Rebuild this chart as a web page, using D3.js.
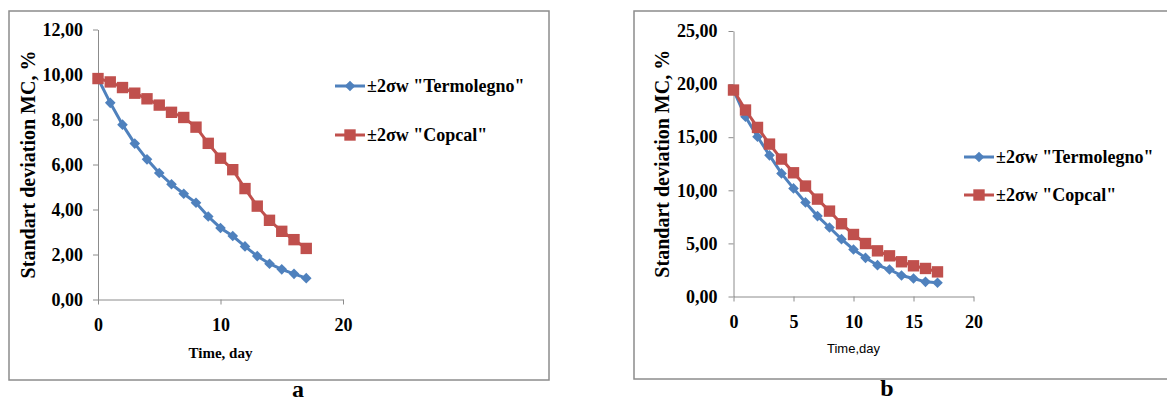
<!DOCTYPE html>
<meta charset="utf-8">
<style>
body { margin: 0; background: #fff; }
.tick text { font-family: "Liberation Serif", "Times New Roman", serif; font-weight: bold; font-size: 18px; fill: #000; }
.domain, .tick line { stroke: #8c8c8c; stroke-width: 1px; }
.legend text, .ytitle { font-family: "Liberation Serif", "Times New Roman", serif; font-weight: bold; fill: #000; }
</style>
<svg></svg>
<script src="https://d3js.org/d3.v7.min.js"></script>
<script>

var width = 1167,
    height = 403;

// days on the x axis
var days = [0, 1, 2, 3, 4, 5, 6, 7, 8, 9, 10, 11, 12, 13, 14, 15, 16, 17];

// panel a values
var aTermolegno = [9.82, 8.74, 7.77, 6.93, 6.23, 5.62, 5.12, 4.70, 4.30, 3.69, 3.18, 2.82, 2.36, 1.93, 1.59, 1.34, 1.14, 0.95];
var aCopcal = [9.82, 9.67, 9.42, 9.17, 8.92, 8.64, 8.32, 8.09, 7.66, 6.94, 6.28, 5.77, 4.93, 4.15, 3.52, 3.03, 2.66, 2.27];

// panel b values
var bTermolegno = [19.44, 16.93, 15.04, 13.29, 11.59, 10.18, 8.86, 7.57, 6.50, 5.40, 4.43, 3.64, 2.95, 2.54, 1.98, 1.70, 1.38, 1.29];
var bCopcal = [19.44, 17.56, 15.92, 14.35, 12.94, 11.65, 10.40, 9.17, 8.04, 6.85, 5.84, 4.99, 4.30, 3.83, 3.27, 2.89, 2.64, 2.32];

var seriesNames = ['±2σw "Termolegno"', '±2σw "Copcal"'];
var yTicksA = [0, 2, 4, 6, 8, 10, 12],
    xTicksA = [0, 10, 20],
    yTicksB = [0, 5, 10, 15, 20, 25],
    xTicksB = [0, 5, 10, 15, 20];

var blue = "#4f81bd",
    red = "#c0504d";

var comma = d3.formatLocale({decimal: ",", thousands: " ", grouping: [3], currency: ["", ""]}).format(".2f");

var svg = d3.select("svg")
    .attr("width", width)
    .attr("height", height);

function panel(o) {
  var g = svg.append("g");

  // frame
  g.append("rect")
      .attr("x", o.frame[0]).attr("y", o.frame[1])
      .attr("width", o.frame[2]).attr("height", o.frame[3])
      .attr("fill", "none")
      .attr("stroke", "#8c8c8c")
      .attr("stroke-width", 1.5);

  var x = d3.scaleLinear().domain([0, 20]).range([o.x0, o.x1]);
  var y = d3.scaleLinear().domain([0, o.ymax]).range([o.y0, o.y1]);

  g.append("g")
      .attr("transform", "translate(0," + o.y0 + ")")
      .call(d3.axisBottom(x).tickValues(o.xticks).tickSize(5).tickPadding(14).tickSizeOuter(0));

  g.append("g")
      .attr("transform", "translate(" + o.x0 + ",0)")
      .call(d3.axisLeft(y).tickValues(o.yticks).tickSize(5).tickPadding(o.ypad).tickFormat(comma).tickSizeOuter(0));

  g.append("text")
      .attr("class", "ytitle")
      .attr("transform", "translate(" + o.ytx + "," + ((o.y0 + o.y1) / 2) + ") rotate(-90)")
      .attr("text-anchor", "middle")
      .attr("font-size", 20)
      .text("Standart deviation MC, %");

  g.append("text")
      .attr("x", x(10)).attr("y", o.xty)
      .attr("text-anchor", "middle")
      .attr("font-family", o.xtFont)
      .attr("font-weight", o.xtWeight)
      .attr("font-size", o.xtSize)
      .text(o.xtitle);

  var line = d3.line()
      .x(function(d, i) { return x(days[i]); })
      .y(function(d) { return y(d); });

  var sets = [
    {values: o.s1, color: blue, sym: d3.symbolDiamond2, size: 72},
    {values: o.s2, color: red, sym: d3.symbolSquare2, size: 165}
  ];

  sets.forEach(function(s) {
    g.append("path")
        .datum(s.values)
        .attr("fill", "none")
        .attr("stroke", s.color)
        .attr("stroke-width", 3)
        .attr("d", line);
    g.selectAll(null)
        .data(s.values)
        .enter().append("path")
        .attr("transform", function(d, i) { return "translate(" + x(days[i]) + "," + y(d) + ")"; })
        .attr("d", d3.symbol().type(s.sym).size(s.size))
        .attr("fill", s.color);
  });

  // legend
  var lg = g.append("g").attr("class", "legend");
  sets.forEach(function(s, i) {
    var ly = o.legY[i];
    lg.append("line")
        .attr("x1", o.legX).attr("x2", o.legX + 30)
        .attr("y1", ly).attr("y2", ly)
        .attr("stroke", s.color).attr("stroke-width", 3);
    lg.append("path")
        .attr("transform", "translate(" + (o.legX + 15) + "," + ly + ")")
        .attr("d", d3.symbol().type(s.sym).size(s.size))
        .attr("fill", s.color);
    lg.append("text")
        .attr("x", o.legX + 32).attr("y", ly + 6)
        .attr("font-size", 18)
        .text(seriesNames[i]);
  });

  g.append("text")
      .attr("x", o.lab[0]).attr("y", o.lab[1])
      .attr("text-anchor", "middle")
      .attr("font-family", "Liberation Serif, serif")
      .attr("font-weight", "bold")
      .attr("font-size", 24)
      .text(o.label);
}

panel({
  frame: [9, 11, 540, 369],
  x0: 98, x1: 343, y0: 299.5, y1: 29.5, ymax: 12,
  xticks: xTicksA, yticks: yTicksA, ypad: 10,
  ytx: 35, xty: 358, xtitle: "Time, day",
  xtFont: "Liberation Serif, serif", xtWeight: "bold", xtSize: 15,
  s1: aTermolegno, s2: aCopcal,
  legX: 335, legY: [86, 135],
  label: "a", lab: [298, 397]
});

panel({
  frame: [634, 11, 560, 368],
  x0: 733.5, x1: 973.5, y0: 296.5, y1: 31, ymax: 25,
  xticks: xTicksB, yticks: yTicksB, ypad: 11,
  ytx: 669, xty: 353, xtitle: "Time,day",
  xtFont: "Liberation Sans, Arial, sans-serif", xtWeight: "normal", xtSize: 13,
  s1: bTermolegno, s2: bCopcal,
  legX: 964, legY: [157, 195],
  label: "b", lab: [887, 396]
});

</script>
